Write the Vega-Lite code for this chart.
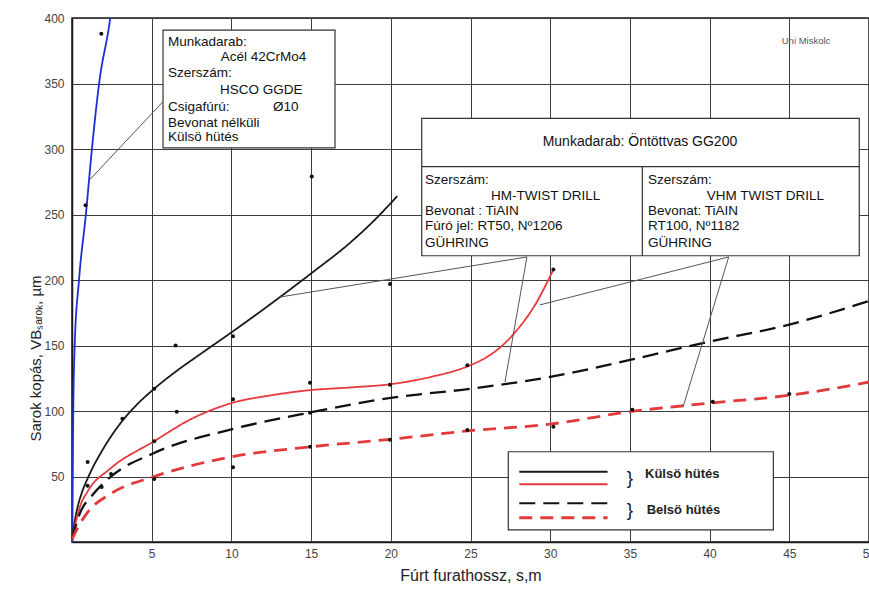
{
  "$schema": "https://vega.github.io/schema/vega-lite/v6.json",
  "width": 797,
  "height": 524,
  "autosize": {"type": "none"},
  "padding": {"left": 72, "top": 18, "right": 0, "bottom": 48},
  "background": "white",
  "config": {
    "view": {"stroke": "#1a1a1a", "strokeWidth": 1.5},
    "font": "Liberation Sans",
    "axis": {"labelFont": "Liberation Sans", "titleFont": "Liberation Sans"}
  },
  "datasets": {
    "curves": [
      {"series": "HSCO Külső", "x": 0, "y": 0},
      {"series": "HSCO Külső", "x": 0.04, "y": 50},
      {"series": "HSCO Külső", "x": 0.08, "y": 100},
      {"series": "HSCO Külső", "x": 0.17, "y": 150},
      {"series": "HSCO Külső", "x": 0.44, "y": 200},
      {"series": "HSCO Külső", "x": 0.87, "y": 250},
      {"series": "HSCO Külső", "x": 1.25, "y": 300},
      {"series": "HSCO Külső", "x": 1.7, "y": 350},
      {"series": "HSCO Külső", "x": 2.4, "y": 400},
      {"series": "HSCO Külső", "x": 2.7, "y": 430},
      {"series": "HM Külső", "x": 0, "y": 3},
      {"series": "HM Külső", "x": 0.3, "y": 24},
      {"series": "HM Külső", "x": 0.6, "y": 37},
      {"series": "HM Külső", "x": 1, "y": 49},
      {"series": "HM Külső", "x": 2, "y": 72},
      {"series": "HM Külső", "x": 3, "y": 90},
      {"series": "HM Külső", "x": 4, "y": 104},
      {"series": "HM Külső", "x": 5.16, "y": 117},
      {"series": "HM Külső", "x": 6.5, "y": 130},
      {"series": "HM Külső", "x": 8, "y": 143},
      {"series": "HM Külső", "x": 10, "y": 160},
      {"series": "HM Külső", "x": 12.5, "y": 182},
      {"series": "HM Külső", "x": 15, "y": 205},
      {"series": "HM Külső", "x": 17.5, "y": 229},
      {"series": "HM Külső", "x": 19, "y": 246},
      {"series": "HM Külső", "x": 20.4, "y": 264},
      {"series": "VHM Külső", "x": 0, "y": 2},
      {"series": "VHM Külső", "x": 0.5, "y": 27},
      {"series": "VHM Külső", "x": 1, "y": 39},
      {"series": "VHM Külső", "x": 2.4, "y": 56},
      {"series": "VHM Külső", "x": 5.16, "y": 77},
      {"series": "VHM Külső", "x": 7.5, "y": 94},
      {"series": "VHM Külső", "x": 10, "y": 106},
      {"series": "VHM Külső", "x": 12.5, "y": 112},
      {"series": "VHM Külső", "x": 15, "y": 116},
      {"series": "VHM Külső", "x": 17.5, "y": 118},
      {"series": "VHM Külső", "x": 20, "y": 120.5},
      {"series": "VHM Külső", "x": 22.5, "y": 126},
      {"series": "VHM Külső", "x": 25, "y": 135},
      {"series": "VHM Külső", "x": 26, "y": 141},
      {"series": "VHM Külső", "x": 27, "y": 150},
      {"series": "VHM Külső", "x": 28, "y": 163},
      {"series": "VHM Külső", "x": 29, "y": 180},
      {"series": "VHM Külső", "x": 30.2, "y": 208},
      {"series": "HM Belső", "x": 0, "y": 2},
      {"series": "HM Belső", "x": 0.5, "y": 22},
      {"series": "HM Belső", "x": 1.3, "y": 36},
      {"series": "HM Belső", "x": 2.45, "y": 50},
      {"series": "HM Belső", "x": 5.16, "y": 68},
      {"series": "HM Belső", "x": 10, "y": 86},
      {"series": "HM Belső", "x": 15, "y": 99},
      {"series": "HM Belső", "x": 20, "y": 110},
      {"series": "HM Belső", "x": 25, "y": 117},
      {"series": "HM Belső", "x": 30, "y": 126},
      {"series": "HM Belső", "x": 35, "y": 139},
      {"series": "HM Belső", "x": 40, "y": 153},
      {"series": "HM Belső", "x": 45, "y": 166},
      {"series": "HM Belső", "x": 50, "y": 184},
      {"series": "VHM Belső", "x": 0, "y": 2},
      {"series": "VHM Belső", "x": 0.5, "y": 14},
      {"series": "VHM Belső", "x": 1, "y": 23},
      {"series": "VHM Belső", "x": 2.45, "y": 37},
      {"series": "VHM Belső", "x": 5.16, "y": 50},
      {"series": "VHM Belső", "x": 10, "y": 65},
      {"series": "VHM Belső", "x": 15, "y": 72.7},
      {"series": "VHM Belső", "x": 20, "y": 78.4},
      {"series": "VHM Belső", "x": 25, "y": 85},
      {"series": "VHM Belső", "x": 30, "y": 90},
      {"series": "VHM Belső", "x": 35, "y": 99.5},
      {"series": "VHM Belső", "x": 40, "y": 106},
      {"series": "VHM Belső", "x": 45, "y": 112},
      {"series": "VHM Belső", "x": 50, "y": 122}
    ],
    "dots": [
      {"x": 0.85, "y": 257}, {"x": 1.84, "y": 388},
      {"x": 0.98, "y": 61}, {"x": 0.98, "y": 43}, {"x": 1.86, "y": 42}, {"x": 2.45, "y": 52},
      {"x": 3.16, "y": 94}, {"x": 5.16, "y": 117}, {"x": 5.16, "y": 77}, {"x": 5.16, "y": 48},
      {"x": 6.57, "y": 99.5}, {"x": 6.5, "y": 150}, {"x": 10.1, "y": 109}, {"x": 10.1, "y": 57},
      {"x": 10.1, "y": 157}, {"x": 14.93, "y": 121.6}, {"x": 14.93, "y": 98.7}, {"x": 14.93, "y": 72.7},
      {"x": 15.04, "y": 279}, {"x": 19.95, "y": 197}, {"x": 19.95, "y": 120}, {"x": 19.95, "y": 78},
      {"x": 24.8, "y": 135}, {"x": 24.8, "y": 85.5}, {"x": 30.2, "y": 208}, {"x": 30.2, "y": 88},
      {"x": 35.15, "y": 101}, {"x": 40.2, "y": 107}, {"x": 45, "y": 113}
    ],
    "boxes": [
      {"x": 5.71, "x2": 16.5, "y": 300.8, "y2": 390.8},
      {"x": 21.94, "x2": 49.39, "y": 218.5, "y2": 323.4},
      {"x": 27.37, "x2": 44.0, "y": 9.2, "y2": 68.9}
    ],
    "leaders": [
      {"x": 5.7, "y": 336, "x2": 1.07, "y2": 276},
      {"x": 28.54, "y": 217.6, "x2": 13.05, "y2": 187},
      {"x": 28.54, "y": 217.6, "x2": 27.16, "y2": 122},
      {"x": 41.2, "y": 217.6, "x2": 29.36, "y2": 181},
      {"x": 41.2, "y": 217.6, "x2": 38.33, "y2": 103}
    ],
    "dividers": [
      {"x": 21.94, "y": 286.5, "x2": 49.39, "y2": 286.5},
      {"x": 35.78, "y": 286.5, "x2": 35.78, "y2": 218.5}
    ],
    "ltext": [
      {"t": "Munkadarab:", "x": 6.02, "y": 381.9},
      {"t": "Acél 42CrMo4", "x": 9.33, "y": 370.2},
      {"t": "Szerszám:", "x": 6.02, "y": 358.0},
      {"t": "HSCO GGDE", "x": 9.28, "y": 345.0},
      {"t": "Csigafúrú:", "x": 6.02, "y": 332.1},
      {"t": "Ø10", "x": 12.61, "y": 332.1},
      {"t": "Bevonat nélküli", "x": 6.02, "y": 319.8},
      {"t": "Külsö hütés", "x": 6.02, "y": 309.2},
      {"t": "Szerszám:", "x": 22.15, "y": 276.3},
      {"t": "HM-TWIST DRILL", "x": 26.29, "y": 264.1},
      {"t": "Bevonat : TiAIN", "x": 22.15, "y": 252.7},
      {"t": "Fúró jel: RT50, Nº1206", "x": 22.15, "y": 241.2},
      {"t": "GÜHRING", "x": 22.15, "y": 228.2},
      {"t": "Szerszám:", "x": 36.14, "y": 276.3},
      {"t": "VHM TWIST DRILL", "x": 39.82, "y": 264.1},
      {"t": "Bevonat: TiAIN", "x": 36.14, "y": 252.7},
      {"t": "RT100, Nº1182", "x": 36.14, "y": 241.2},
      {"t": "GÜHRING", "x": 36.14, "y": 228.2}
    ],
    "legendtext": [
      {"t": "Külsö hütés", "x": 35.95, "y": 51.9},
      {"t": "Belsö hütés", "x": 36.05, "y": 24.4}
    ],
    "ctext": [
      {"t": "Munkadarab: Öntöttvas GG200", "x": 35.63, "y": 305.3}
    ],
    "braces": [
      {"t": "}", "x": 35.0, "y": 48.9},
      {"t": "}", "x": 35.0, "y": 24.4}
    ],
    "credit": [
      {"t": "Uni Miskolc", "x": 46.05, "y": 382.7}
    ],
    "legendlines": [
      {"series": "HM Külső", "x": 28.06, "x2": 33.6, "y": 53.7},
      {"series": "VHM Külső", "x": 28.06, "x2": 33.6, "y": 44},
      {"series": "HM Belső", "x": 28.06, "x2": 33.6, "y": 29.5},
      {"series": "VHM Belső", "x": 28.06, "x2": 33.6, "y": 18.5}
    ]
  },
  "layer": [
    {
      "data": {"name": "curves"},
      "transform": [{"filter": "datum.series != 'HM Belső' && datum.series != 'VHM Belső'"}],
      "mark": {"type": "line", "interpolate": "monotone", "clip": true, "strokeWidth": 1.8},
      "encoding": {
        "x": {
          "field": "x", "type": "quantitative",
          "scale": {"domain": [0, 50], "nice": false},
          "axis": {
            "values": [0, 5, 10, 15, 20, 25, 30, 35, 40, 45, 50],
            "labelExpr": "datum.value == 0 ? '' : datum.label",
            "labelFlush": false, "labelFontSize": 12, "labelColor": "#444",
            "labelPadding": 6, "ticks": false,
            "domainColor": "#1a1a1a", "domainWidth": 1.5,
            "grid": true, "gridColor": "#3c3c3c", "gridWidth": 1, "gridOpacity": 1,
            "title": "Fúrt furathossz, s,m", "titleFontSize": 16, "titleFontWeight": "normal",
            "titleColor": "#222", "titlePadding": 8
          }
        },
        "y": {
          "field": "y", "type": "quantitative",
          "scale": {"domain": [0, 400], "nice": false},
          "axis": {
            "values": [0, 50, 100, 150, 200, 250, 300, 350, 400],
            "labelExpr": "datum.value == 0 ? '' : datum.label",
            "labelFlush": false, "labelFontSize": 12, "labelColor": "#444",
            "labelPadding": 8, "ticks": false,
            "domainColor": "#1a1a1a", "domainWidth": 1.5,
            "grid": true, "gridColor": "#3c3c3c", "gridWidth": 1, "gridOpacity": 1,
            "title": "Sarok kopás, VBₛₐᵣₒₖ, µm", "titleFontSize": 15, "titleFontWeight": "normal",
            "titleColor": "#222", "titleY": 340, "titlePadding": 0
          }
        },
        "color": {
          "field": "series", "type": "nominal", "legend": null,
          "scale": {"domain": ["HSCO Külső", "HM Külső", "VHM Külső", "HM Belső", "VHM Belső"],
                    "range": ["#1c2fd6", "#1a1a1a", "#e8383d", "#111111", "#e23a3a"]}
        },
        "strokeDash": {
          "field": "series", "type": "nominal", "legend": null,
          "scale": {"domain": ["HSCO Külső", "HM Külső", "VHM Külső", "HM Belső", "VHM Belső"],
                    "range": [[1, 0], [1, 0], [1, 0], [16, 8], [13, 8]]}
        }
      }
    },
    {
      "data": {"name": "curves"},
      "transform": [{"filter": "datum.series == 'HM Belső'"}],
      "mark": {"type": "line", "interpolate": "monotone", "clip": true, "strokeWidth": 2.3},
      "encoding": {
        "x": {"field": "x", "type": "quantitative"},
        "y": {"field": "y", "type": "quantitative"},
        "color": {"field": "series", "type": "nominal", "legend": null},
        "strokeDash": {"field": "series", "type": "nominal", "legend": null}
      }
    },
    {
      "data": {"name": "curves"},
      "transform": [{"filter": "datum.series == 'VHM Belső'"}],
      "mark": {"type": "line", "interpolate": "monotone", "clip": true, "strokeWidth": 2.8},
      "encoding": {
        "x": {"field": "x", "type": "quantitative"},
        "y": {"field": "y", "type": "quantitative"},
        "color": {"field": "series", "type": "nominal", "legend": null},
        "strokeDash": {"field": "series", "type": "nominal", "legend": null}
      }
    },
    {
      "data": {"name": "dots"},
      "mark": {"type": "circle", "size": 16, "color": "#111", "opacity": 1},
      "encoding": {
        "x": {"field": "x", "type": "quantitative"},
        "y": {"field": "y", "type": "quantitative"}
      }
    },
    {
      "data": {"name": "leaders"},
      "mark": {"type": "rule", "color": "#555", "strokeWidth": 1},
      "encoding": {
        "x": {"field": "x", "type": "quantitative"},
        "y": {"field": "y", "type": "quantitative"},
        "x2": {"field": "x2"},
        "y2": {"field": "y2"}
      }
    },
    {
      "data": {"name": "boxes"},
      "mark": {"type": "rect", "fill": "white", "stroke": "#333", "strokeWidth": 1.2},
      "encoding": {
        "x": {"field": "x", "type": "quantitative"},
        "x2": {"field": "x2"},
        "y": {"field": "y", "type": "quantitative"},
        "y2": {"field": "y2"}
      }
    },
    {
      "data": {"name": "dividers"},
      "mark": {"type": "rule", "color": "#333", "strokeWidth": 1.2},
      "encoding": {
        "x": {"field": "x", "type": "quantitative"},
        "y": {"field": "y", "type": "quantitative"},
        "x2": {"field": "x2"},
        "y2": {"field": "y2"}
      }
    },
    {
      "data": {"name": "legendlines"},
      "transform": [{"filter": "datum.series != 'VHM Belső'"}],
      "mark": {"type": "rule", "strokeWidth": 2},
      "encoding": {
        "x": {"field": "x", "type": "quantitative"},
        "x2": {"field": "x2"},
        "y": {"field": "y", "type": "quantitative"},
        "color": {"field": "series", "type": "nominal", "legend": null},
        "strokeDash": {"field": "series", "type": "nominal", "legend": null}
      }
    },
    {
      "data": {"name": "legendlines"},
      "transform": [{"filter": "datum.series == 'VHM Belső'"}],
      "mark": {"type": "rule", "strokeWidth": 2.8},
      "encoding": {
        "x": {"field": "x", "type": "quantitative"},
        "x2": {"field": "x2"},
        "y": {"field": "y", "type": "quantitative"},
        "color": {"field": "series", "type": "nominal", "legend": null},
        "strokeDash": {"field": "series", "type": "nominal", "legend": null}
      }
    },
    {
      "data": {"name": "ltext"},
      "mark": {"type": "text", "align": "left", "baseline": "middle", "fontSize": 13.5, "color": "#111", "font": "Liberation Sans"},
      "encoding": {
        "x": {"field": "x", "type": "quantitative"},
        "y": {"field": "y", "type": "quantitative"},
        "text": {"field": "t"}
      }
    },
    {
      "data": {"name": "legendtext"},
      "mark": {"type": "text", "align": "left", "baseline": "middle", "fontSize": 13, "fontWeight": "bold", "color": "#222", "font": "Liberation Sans"},
      "encoding": {
        "x": {"field": "x", "type": "quantitative"},
        "y": {"field": "y", "type": "quantitative"},
        "text": {"field": "t"}
      }
    },
    {
      "data": {"name": "ctext"},
      "mark": {"type": "text", "align": "center", "baseline": "middle", "fontSize": 14, "color": "#111", "font": "Liberation Sans"},
      "encoding": {
        "x": {"field": "x", "type": "quantitative"},
        "y": {"field": "y", "type": "quantitative"},
        "text": {"field": "t"}
      }
    },
    {
      "data": {"name": "braces"},
      "mark": {"type": "text", "align": "center", "baseline": "middle", "fontSize": 19, "color": "#1a1a1a", "font": "Liberation Sans"},
      "encoding": {
        "x": {"field": "x", "type": "quantitative"},
        "y": {"field": "y", "type": "quantitative"},
        "text": {"field": "t"}
      }
    },
    {
      "data": {"name": "credit"},
      "mark": {"type": "text", "align": "center", "baseline": "middle", "fontSize": 9.5, "color": "#555", "font": "Liberation Sans"},
      "encoding": {
        "x": {"field": "x", "type": "quantitative"},
        "y": {"field": "y", "type": "quantitative"},
        "text": {"field": "t"}
      }
    }
  ]
}
